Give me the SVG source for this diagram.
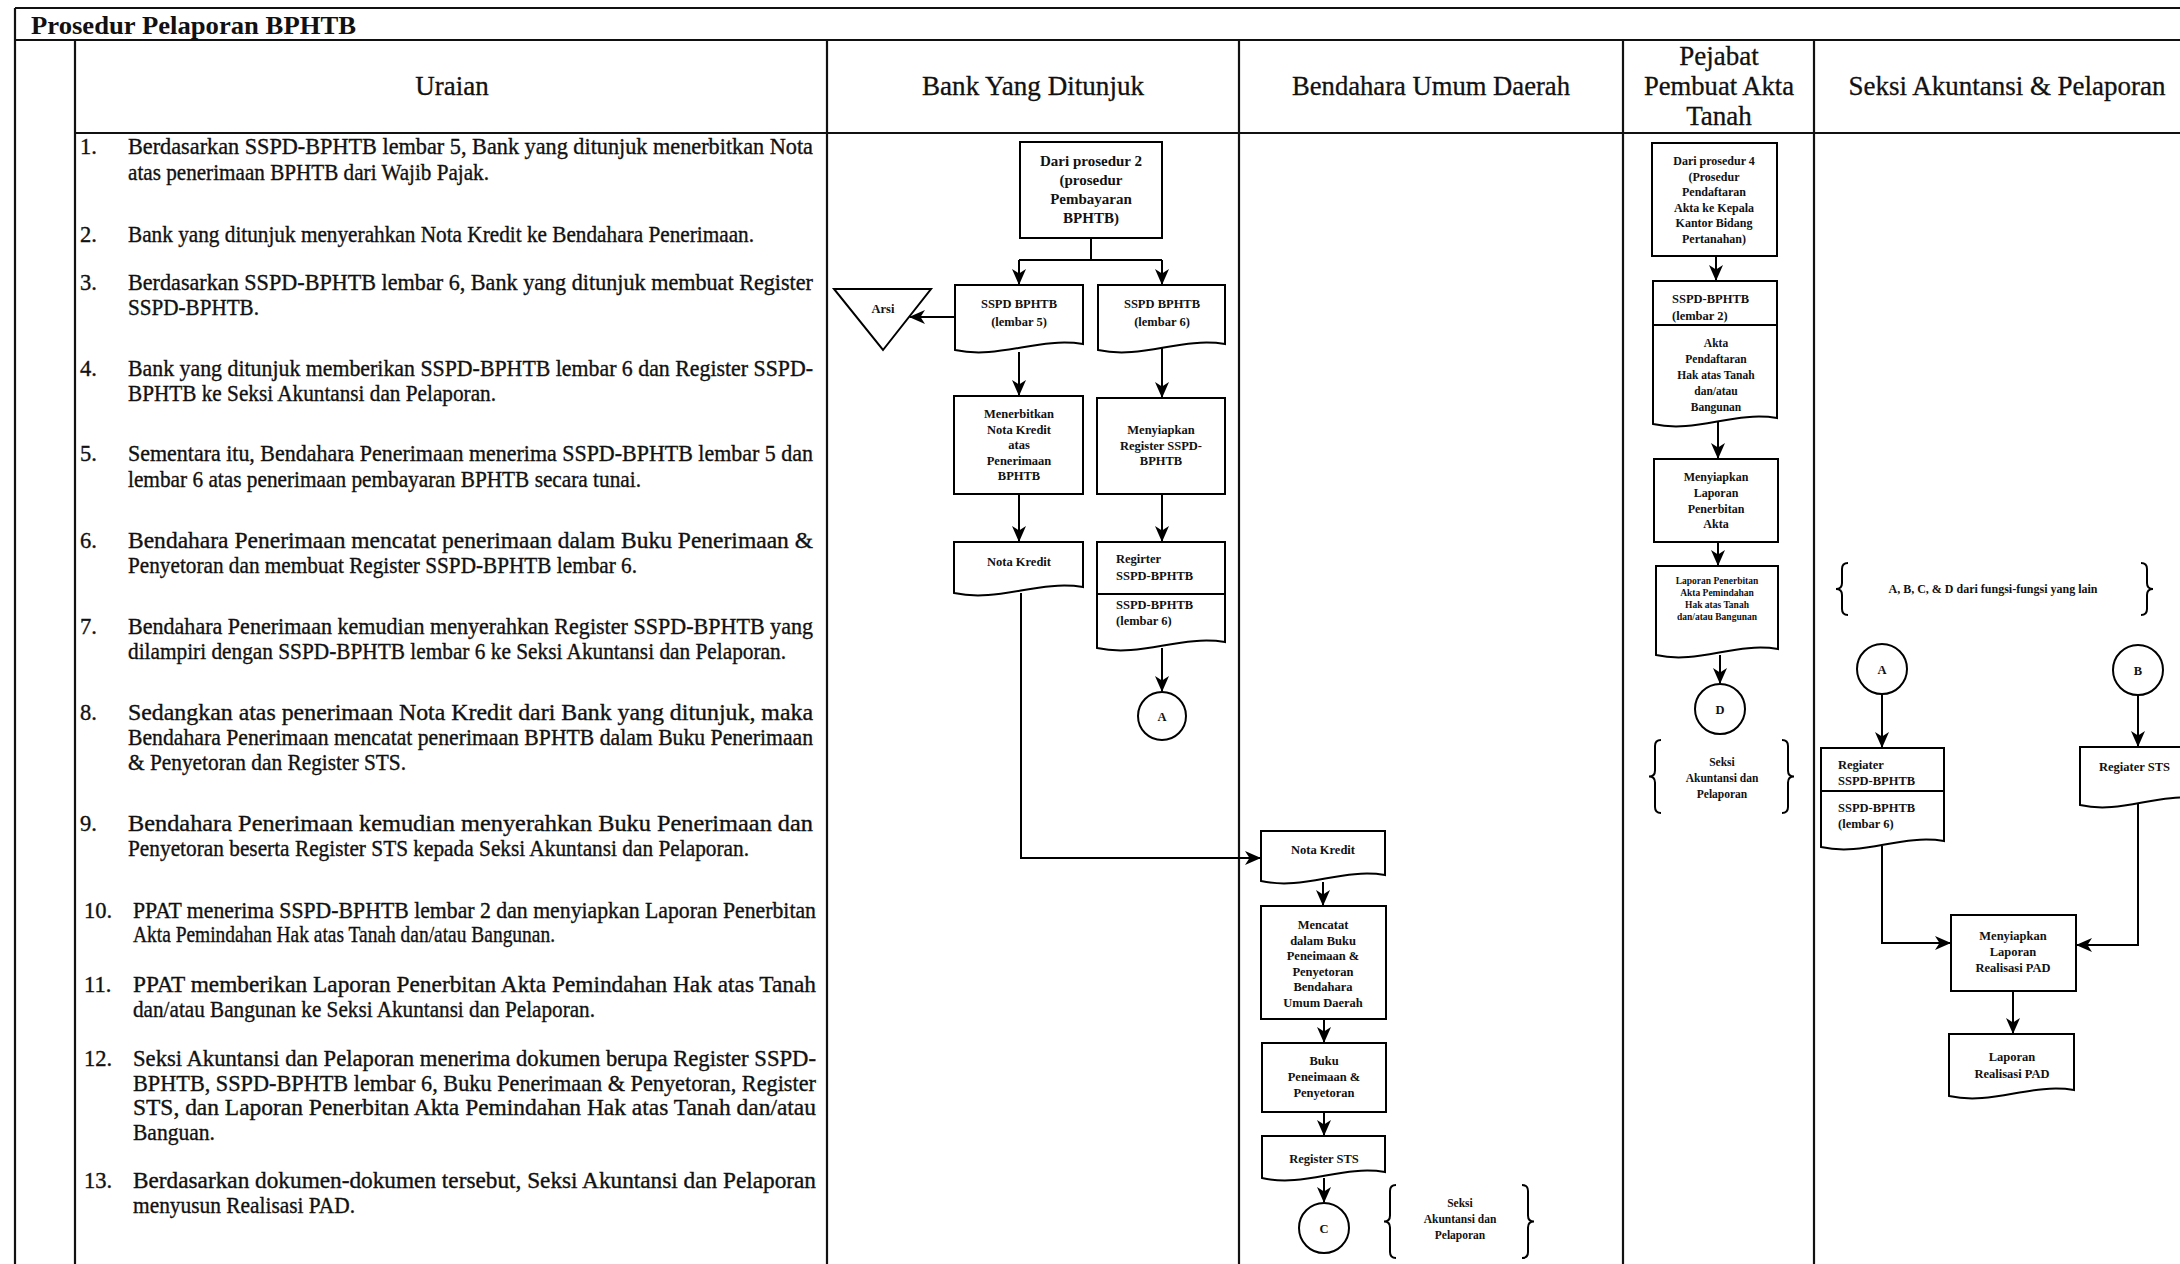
<svg xmlns="http://www.w3.org/2000/svg" width="2180" height="1264" viewBox="0 0 2180 1264">
<style>
.ln{stroke:#000;stroke-width:2;fill:none}
.tb{stroke:#111;stroke-width:2.2;fill:none}
.box{fill:#fff;stroke:#000;stroke-width:2}
.u{font-family:"Liberation Serif",serif;font-size:22.5px;fill:#111;stroke:#111;stroke-width:0.35}
.h{font-family:"Liberation Serif",serif;font-size:27px;fill:#111;text-anchor:middle;stroke:#111;stroke-width:0.3}
.t{font-family:"Liberation Serif",serif;font-size:26px;font-weight:bold;fill:#111}
.n{font-family:"Liberation Serif",serif;font-weight:bold;font-size:12.5px;fill:#111;text-anchor:middle}
.nl{font-family:"Liberation Serif",serif;font-weight:bold;font-size:12.5px;fill:#111}
.s15{font-size:15px}
.s12{font-size:12px}
.s11{font-size:11.5px}
.s9{font-size:9.5px}
</style>
<defs>
<marker id="ah" markerWidth="16" markerHeight="16" refX="15" refY="8" orient="auto" markerUnits="userSpaceOnUse"><path d="M0,1 L16,8 L0,15 L4.5,8 z" fill="#000"/></marker>
</defs>
<rect width="2180" height="1264" fill="#fff"/>

<g id="table">
<path class="tb" d="M15,8 H2180 M15,40 H2180 M75,133 H2180 M15,8 V1264 M75,40 V1264 M827,40 V1264 M1239,40 V1264 M1623,40 V1264 M1814,40 V1264"/>
<text class="t" x="31" y="34" textLength="325" lengthAdjust="spacingAndGlyphs">Prosedur Pelaporan BPHTB</text>
<text class="h" x="452" y="95">Uraian</text>
<text class="h" x="1033" y="95" textLength="222" lengthAdjust="spacingAndGlyphs">Bank Yang Ditunjuk</text>
<text class="h" x="1431" y="95" textLength="278" lengthAdjust="spacingAndGlyphs">Bendahara Umum Daerah</text>
<text class="h" x="1719" y="65">Pejabat</text>
<text class="h" x="1719" y="95" textLength="150" lengthAdjust="spacingAndGlyphs">Pembuat Akta</text>
<text class="h" x="1719" y="125">Tanah</text>
<text class="h" x="2007" y="95" textLength="317" lengthAdjust="spacingAndGlyphs">Seksi Akuntansi &amp; Pelaporan</text>
</g>

<g id="uraian">
<text class="u" x="80" y="154">1.</text>
<text class="u" x="128" y="154" textLength="685" lengthAdjust="spacingAndGlyphs">Berdasarkan SSPD-BPHTB lembar 5, Bank yang ditunjuk menerbitkan Nota</text>
<text class="u" x="128" y="180" textLength="361" lengthAdjust="spacingAndGlyphs">atas penerimaan BPHTB dari Wajib Pajak.</text>
<text class="u" x="80" y="242">2.</text>
<text class="u" x="128" y="242" textLength="626" lengthAdjust="spacingAndGlyphs">Bank yang ditunjuk menyerahkan Nota Kredit ke Bendahara Penerimaan.</text>
<text class="u" x="80" y="290">3.</text>
<text class="u" x="128" y="290" textLength="685" lengthAdjust="spacingAndGlyphs">Berdasarkan SSPD-BPHTB lembar 6, Bank yang ditunjuk membuat Register</text>
<text class="u" x="128" y="315" textLength="131" lengthAdjust="spacingAndGlyphs">SSPD-BPHTB.</text>
<text class="u" x="80" y="376">4.</text>
<text class="u" x="128" y="376" textLength="685" lengthAdjust="spacingAndGlyphs">Bank yang ditunjuk memberikan SSPD-BPHTB lembar 6 dan Register SSPD-</text>
<text class="u" x="128" y="401" textLength="368" lengthAdjust="spacingAndGlyphs">BPHTB ke Seksi Akuntansi dan Pelaporan.</text>
<text class="u" x="80" y="461">5.</text>
<text class="u" x="128" y="461" textLength="685" lengthAdjust="spacingAndGlyphs">Sementara itu, Bendahara Penerimaan menerima SSPD-BPHTB lembar 5 dan</text>
<text class="u" x="128" y="487" textLength="513" lengthAdjust="spacingAndGlyphs">lembar 6 atas penerimaan pembayaran BPHTB secara tunai.</text>
<text class="u" x="80" y="548">6.</text>
<text class="u" x="128" y="548" textLength="685" lengthAdjust="spacingAndGlyphs">Bendahara Penerimaan mencatat penerimaan dalam Buku Penerimaan &amp;</text>
<text class="u" x="128" y="573" textLength="509" lengthAdjust="spacingAndGlyphs">Penyetoran dan membuat Register SSPD-BPHTB lembar 6.</text>
<text class="u" x="80" y="634">7.</text>
<text class="u" x="128" y="634" textLength="685" lengthAdjust="spacingAndGlyphs">Bendahara Penerimaan kemudian menyerahkan Register SSPD-BPHTB yang</text>
<text class="u" x="128" y="659" textLength="658" lengthAdjust="spacingAndGlyphs">dilampiri dengan SSPD-BPHTB lembar 6 ke Seksi Akuntansi dan Pelaporan.</text>
<text class="u" x="80" y="720">8.</text>
<text class="u" x="128" y="720" textLength="685" lengthAdjust="spacingAndGlyphs">Sedangkan atas penerimaan Nota Kredit dari Bank yang ditunjuk, maka</text>
<text class="u" x="128" y="745" textLength="685" lengthAdjust="spacingAndGlyphs">Bendahara Penerimaan mencatat penerimaan BPHTB dalam Buku Penerimaan</text>
<text class="u" x="128" y="770" textLength="278" lengthAdjust="spacingAndGlyphs">&amp; Penyetoran dan Register STS.</text>
<text class="u" x="80" y="831">9.</text>
<text class="u" x="128" y="831" textLength="685" lengthAdjust="spacingAndGlyphs">Bendahara Penerimaan kemudian menyerahkan Buku Penerimaan dan</text>
<text class="u" x="128" y="856" textLength="621" lengthAdjust="spacingAndGlyphs">Penyetoran beserta Register STS kepada Seksi Akuntansi dan Pelaporan.</text>
<text class="u" x="84" y="918">10.</text>
<text class="u" x="133" y="918" textLength="683" lengthAdjust="spacingAndGlyphs">PPAT menerima SSPD-BPHTB lembar 2 dan menyiapkan Laporan Penerbitan</text>
<text class="u" x="133" y="942" textLength="422" lengthAdjust="spacingAndGlyphs">Akta Pemindahan Hak atas Tanah dan/atau Bangunan.</text>
<text class="u" x="84" y="992">11.</text>
<text class="u" x="133" y="992" textLength="683" lengthAdjust="spacingAndGlyphs">PPAT memberikan Laporan Penerbitan Akta Pemindahan Hak atas Tanah</text>
<text class="u" x="133" y="1017" textLength="462" lengthAdjust="spacingAndGlyphs">dan/atau Bangunan ke Seksi Akuntansi dan Pelaporan.</text>
<text class="u" x="84" y="1066">12.</text>
<text class="u" x="133" y="1066" textLength="683" lengthAdjust="spacingAndGlyphs">Seksi Akuntansi dan Pelaporan menerima dokumen berupa Register SSPD-</text>
<text class="u" x="133" y="1091" textLength="683" lengthAdjust="spacingAndGlyphs">BPHTB, SSPD-BPHTB lembar 6, Buku Penerimaan &amp; Penyetoran, Register</text>
<text class="u" x="133" y="1115" textLength="683" lengthAdjust="spacingAndGlyphs">STS, dan Laporan Penerbitan Akta Pemindahan Hak atas Tanah dan/atau</text>
<text class="u" x="133" y="1140" textLength="82" lengthAdjust="spacingAndGlyphs">Banguan.</text>
<text class="u" x="84" y="1188">13.</text>
<text class="u" x="133" y="1188" textLength="683" lengthAdjust="spacingAndGlyphs">Berdasarkan dokumen-dokumen tersebut, Seksi Akuntansi dan Pelaporan</text>
<text class="u" x="133" y="1213" textLength="222" lengthAdjust="spacingAndGlyphs">menyusun Realisasi PAD.</text>
</g>

<g id="connectors">
<path class="ln" d="M1091,238 V260 M1019,260 H1162"/>
<path class="ln" d="M1019,260 V284" marker-end="url(#ah)"/>
<path class="ln" d="M1162,260 V284" marker-end="url(#ah)"/>
<path class="ln" d="M955,317 H910" marker-end="url(#ah)"/>
<path class="ln" d="M1019,352 V395" marker-end="url(#ah)"/>
<path class="ln" d="M1162,347 V397" marker-end="url(#ah)"/>
<path class="ln" d="M1019,494 V541" marker-end="url(#ah)"/>
<path class="ln" d="M1162,494 V541" marker-end="url(#ah)"/>
<path class="ln" d="M1162,648 V691" marker-end="url(#ah)"/>
<path class="ln" d="M1021,593 V858 H1260" marker-end="url(#ah)"/>
<path class="ln" d="M1323,882 V905" marker-end="url(#ah)"/>
<path class="ln" d="M1324,1019 V1042" marker-end="url(#ah)"/>
<path class="ln" d="M1324,1112 V1135" marker-end="url(#ah)"/>
<path class="ln" d="M1324,1178 V1202" marker-end="url(#ah)"/>
<path class="ln" d="M1716,256 V280" marker-end="url(#ah)"/>
<path class="ln" d="M1718,422 V458" marker-end="url(#ah)"/>
<path class="ln" d="M1718,542 V565" marker-end="url(#ah)"/>
<path class="ln" d="M1720,655 V683" marker-end="url(#ah)"/>
<path class="ln" d="M1882,694 V747" marker-end="url(#ah)"/>
<path class="ln" d="M2138,695 V746" marker-end="url(#ah)"/>
<path class="ln" d="M1882,846 V943 H1950" marker-end="url(#ah)"/>
<path class="ln" d="M2138,803 V945 H2077" marker-end="url(#ah)"/>
<path class="ln" d="M2013,991 V1033" marker-end="url(#ah)"/>
</g>

<g id="bank-start">
<rect class="box" x="1020" y="142" width="142" height="96"/>
<text class="n s15" x="1091" y="166">Dari prosedur 2</text>
<text class="n s15" x="1091" y="185">(prosedur</text>
<text class="n s15" x="1091" y="204">Pembayaran</text>
<text class="n s15" x="1091" y="223">BPHTB)</text>
</g>
<g id="arsi">
<path class="box" d="M834,289 H931 L883,350 Z"/>
<text class="n" x="883" y="313">Arsi</text>
</g>
<g id="sspd-l5">
<path class="box" d="M955,285 H1083 V344 C1038.2,336.8 999.8,359.6 955,350 Z"/>
<text class="n" x="1019" y="308">SSPD BPHTB</text>
<text class="n" x="1019" y="326">(lembar 5)</text>
</g>
<g id="sspd-l6">
<path class="box" d="M1098,285 H1225 V344 C1180.6,336.8 1142.5,359.6 1098,350 Z"/>
<text class="n" x="1162" y="308">SSPD BPHTB</text>
<text class="n" x="1162" y="326">(lembar 6)</text>
</g>
<g id="menerbitkan">
<rect class="box" x="954" y="396" width="129" height="98"/>
<text class="n" x="1019" y="418">Menerbitkan</text>
<text class="n" x="1019" y="433.5">Nota Kredit</text>
<text class="n" x="1019" y="449">atas</text>
<text class="n" x="1019" y="464.5">Penerimaan</text>
<text class="n" x="1019" y="480">BPHTB</text>
</g>
<g id="menyiapkan-reg">
<rect class="box" x="1097" y="398" width="128" height="96"/>
<text class="n" x="1161" y="434">Menyiapkan</text>
<text class="n" x="1161" y="449.5">Register SSPD-</text>
<text class="n" x="1161" y="465">BPHTB</text>
</g>
<g id="nota-kredit-bank">
<path class="box" d="M954,542 H1083 V587 C1037.9,579.8 999.2,602.6 954,593 Z"/>
<text class="n" x="1019" y="566">Nota Kredit</text>
</g>
<g id="register-bank">
<rect class="box" x="1097" y="542" width="128" height="52"/>
<path class="box" d="M1097,594 H1225 V642 C1180.2,634.8 1141.8,657.6 1097,648 Z"/>
<text class="nl" x="1116" y="563">Regirter</text>
<text class="nl" x="1116" y="580">SSPD-BPHTB</text>
<text class="nl" x="1116" y="609">SSPD-BPHTB</text>
<text class="nl" x="1116" y="625">(lembar 6)</text>
</g>
<g id="conn-a-bank">
<circle class="box" cx="1162" cy="716" r="24"/>
<text class="n" x="1162" y="721">A</text>
</g>

<g id="nota-kredit-bud">
<path class="box" d="M1261,831 H1385 V875 C1341.6,867.8 1304.4,890.6 1261,881 Z"/>
<text class="n" x="1323" y="854">Nota Kredit</text>
</g>
<g id="mencatat">
<rect class="box" x="1261" y="906" width="125" height="113"/>
<text class="n" x="1323" y="929">Mencatat</text>
<text class="n" x="1323" y="945">dalam Buku</text>
<text class="n" x="1323" y="960">Peneimaan &amp;</text>
<text class="n" x="1323" y="976">Penyetoran</text>
<text class="n" x="1323" y="991">Bendahara</text>
<text class="n" x="1323" y="1007">Umum Daerah</text>
</g>
<g id="buku">
<rect class="box" x="1262" y="1043" width="124" height="69"/>
<text class="n" x="1324" y="1065">Buku</text>
<text class="n" x="1324" y="1081">Peneimaan &amp;</text>
<text class="n" x="1324" y="1097">Penyetoran</text>
</g>
<g id="register-sts-bud">
<path class="box" d="M1262,1136 H1385 V1172 C1342,1164.8 1305,1187.6 1262,1178 Z"/>
<text class="n" x="1324" y="1163">Register STS</text>
</g>
<g id="conn-c">
<circle class="box" cx="1324" cy="1228" r="25"/>
<text class="n" x="1324" y="1233">C</text>
</g>
<g id="brace-bud">
<path class="ln" d="M1396,1185 Q1390,1185 1390,1191 V1215.5 Q1390,1221.5 1384,1221.5 Q1390,1221.5 1390,1227.5 V1252 Q1390,1258 1396,1258"/>
<path class="ln" d="M1522,1185 Q1528,1185 1528,1191 V1215.5 Q1528,1221.5 1534,1221.5 Q1528,1221.5 1528,1227.5 V1252 Q1528,1258 1522,1258"/>
<text class="n s11" x="1460" y="1207">Seksi</text>
<text class="n s11" x="1460" y="1223">Akuntansi dan</text>
<text class="n s11" x="1460" y="1239">Pelaporan</text>
</g>

<g id="ppat-start">
<rect class="box" x="1652" y="143" width="125" height="113"/>
<text class="n s12" x="1714" y="165">Dari prosedur 4</text>
<text class="n s12" x="1714" y="180.5">(Prosedur</text>
<text class="n s12" x="1714" y="196">Pendaftaran</text>
<text class="n s12" x="1714" y="211.5">Akta ke Kepala</text>
<text class="n s12" x="1714" y="227">Kantor Bidang</text>
<text class="n s12" x="1714" y="242.5">Pertanahan)</text>
</g>
<g id="ppat-docs">
<rect class="box" x="1653" y="281" width="124" height="44"/>
<path class="box" d="M1653,325 H1777 V418 C1733.6,410.8 1696.4,433.6 1653,424 Z"/>
<text class="nl" x="1672" y="303">SSPD-BPHTB</text>
<text class="nl" x="1672" y="320">(lembar 2)</text>
<text class="n s11" x="1716" y="347">Akta</text>
<text class="n s11" x="1716" y="363">Pendaftaran</text>
<text class="n s11" x="1716" y="379">Hak atas Tanah</text>
<text class="n s11" x="1716" y="395">dan/atau</text>
<text class="n s11" x="1716" y="411">Bangunan</text>
</g>
<g id="menyiapkan-laporan">
<rect class="box" x="1654" y="459" width="124" height="83"/>
<text class="n s12" x="1716" y="481">Menyiapkan</text>
<text class="n s12" x="1716" y="497">Laporan</text>
<text class="n s12" x="1716" y="513">Penerbitan</text>
<text class="n s12" x="1716" y="528">Akta</text>
</g>
<g id="laporan-penerbitan">
<path class="box" d="M1656,566 H1778 V649 C1735.3,641.8 1698.7,664.6 1656,655 Z"/>
<text class="n s9" x="1717" y="584">Laporan Penerbitan</text>
<text class="n s9" x="1717" y="596">Akta Pemindahan</text>
<text class="n s9" x="1717" y="608">Hak atas Tanah</text>
<text class="n s9" x="1717" y="620">dan/atau Bangunan</text>
</g>
<g id="conn-d">
<circle class="box" cx="1720" cy="709" r="25"/>
<text class="n" x="1720" y="714">D</text>
</g>
<g id="brace-ppat">
<path class="ln" d="M1661,740 Q1655,740 1655,746 V770.5 Q1655,776.5 1649,776.5 Q1655,776.5 1655,782.5 V807 Q1655,813 1661,813"/>
<path class="ln" d="M1782,740 Q1788,740 1788,746 V770.5 Q1788,776.5 1794,776.5 Q1788,776.5 1788,782.5 V807 Q1788,813 1782,813"/>
<text class="n s11" x="1722" y="766">Seksi</text>
<text class="n s11" x="1722" y="782">Akuntansi dan</text>
<text class="n s11" x="1722" y="798">Pelaporan</text>
</g>

<g id="brace-seksi">
<path class="ln" d="M1848,563 Q1842,563 1842,569 V583 Q1842,589 1836,589 Q1842,589 1842,595 V609 Q1842,615 1848,615"/>
<path class="ln" d="M2141,563 Q2147,563 2147,569 V583 Q2147,589 2153,589 Q2147,589 2147,595 V609 Q2147,615 2141,615"/>
<text class="n s12" x="1993" y="593">A, B, C, &amp; D dari fungsi-fungsi yang lain</text>
</g>
<g id="conn-a">
<circle class="box" cx="1882" cy="669" r="25"/>
<text class="n" x="1882" y="674">A</text>
</g>
<g id="conn-b">
<circle class="box" cx="2138" cy="670" r="25"/>
<text class="n" x="2138" y="675">B</text>
</g>
<g id="register-seksi">
<rect class="box" x="1821" y="748" width="123" height="43"/>
<path class="box" d="M1821,791 H1944 V841 C1900.9,833.8 1864,856.6 1821,847 Z"/>
<text class="nl" x="1838" y="769">Regiater</text>
<text class="nl" x="1838" y="785">SSPD-BPHTB</text>
<text class="nl" x="1838" y="812">SSPD-BPHTB</text>
<text class="nl" x="1838" y="828">(lembar 6)</text>
</g>
<g id="register-sts-seksi">
<path class="box" d="M2080,747 H2200 V799 C2158,791.8 2122,814.6 2080,805 Z"/>
<text class="nl" x="2099" y="771">Regiater STS</text>
</g>
<g id="menyiapkan-lrp">
<rect class="box" x="1951" y="915" width="125" height="76"/>
<text class="n" x="2013" y="940">Menyiapkan</text>
<text class="n" x="2013" y="956">Laporan</text>
<text class="n" x="2013" y="972">Realisasi PAD</text>
</g>
<g id="laporan-lrp">
<path class="box" d="M1949,1034 H2074 V1090 C2030.3,1082.8 1992.8,1105.6 1949,1096 Z"/>
<text class="n" x="2012" y="1061">Laporan</text>
<text class="n" x="2012" y="1078">Realisasi PAD</text>
</g>
</svg>
